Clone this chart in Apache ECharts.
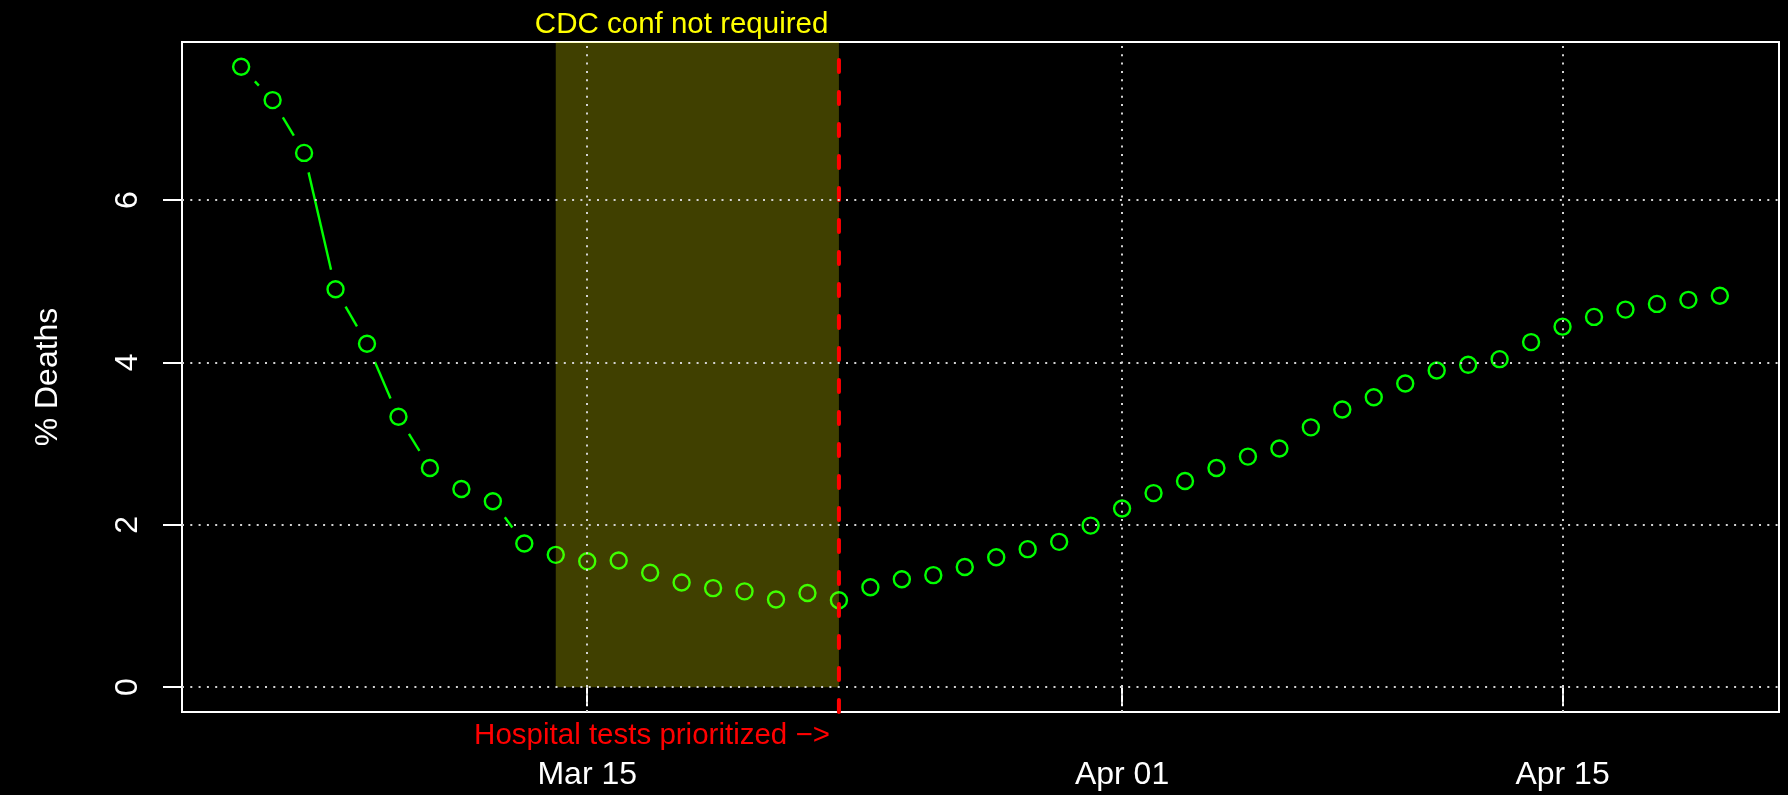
<!DOCTYPE html>
<html>
<head>
<meta charset="utf-8">
<title>% Deaths</title>
<script src="https://cdn.jsdelivr.net/npm/echarts@6/dist/echarts.min.js"></script>
<style>
	html, body { margin: 0; padding: 0; background: #000; }
	#chart { width: 1788px; height: 795px; }
</style>
</head>
<body>
<div id="chart"></div>
<script>
// daily values
var dates = [
	'2020-03-04', '2020-03-05', '2020-03-06', '2020-03-07', '2020-03-08', '2020-03-09',
	'2020-03-10', '2020-03-11', '2020-03-12', '2020-03-13', '2020-03-14', '2020-03-15',
	'2020-03-16', '2020-03-17', '2020-03-18', '2020-03-19', '2020-03-20', '2020-03-21',
	'2020-03-22', '2020-03-23', '2020-03-24', '2020-03-25', '2020-03-26', '2020-03-27',
	'2020-03-28', '2020-03-29', '2020-03-30', '2020-03-31', '2020-04-01', '2020-04-02',
	'2020-04-03', '2020-04-04', '2020-04-05', '2020-04-06', '2020-04-07', '2020-04-08',
	'2020-04-09', '2020-04-10', '2020-04-11', '2020-04-12', '2020-04-13', '2020-04-14',
	'2020-04-15', '2020-04-16', '2020-04-17', '2020-04-18', '2020-04-19', '2020-04-20'
];
var pctDeaths = [
	7.64, 7.23, 6.58, 4.90, 4.23, 3.33,
	2.70, 2.44, 2.29, 1.77, 1.63, 1.55,
	1.56, 1.41, 1.29, 1.22, 1.18, 1.08,
	1.16, 1.07, 1.23, 1.33, 1.38, 1.48,
	1.60, 1.70, 1.79, 1.99, 2.20, 2.39,
	2.54, 2.70, 2.84, 2.94, 3.20, 3.42,
	3.57, 3.74, 3.90, 3.97, 4.04, 4.25,
	4.44, 4.56, 4.65, 4.72, 4.77, 4.82
];
var xTickDates = ['2020-03-15', '2020-04-01', '2020-04-15'];
var xTickLabels = ['Mar 15', 'Apr 01', 'Apr 15'];
var yTicks = [0, 2, 4, 6];
var shadeFrom = '2020-03-14';
var shadeTo = '2020-03-23';
var cdcLabelDate = '2020-03-18';

// dates -> day numbers (Mar 01 = 0)
var DAY = 86400000;
function toDay(s) {
	var p = s.split('-');
	return Math.round((Date.UTC(+p[0], +p[1] - 1, +p[2]) - Date.UTC(2020, 2, 1)) / DAY);
}

var days = dates.map(toDay);
var points = days.map(function(d, i) { return [d, pctDeaths[i]]; });
var segments = [];
for (var i = 0; i < points.length - 1; i++) {
	segments.push([points[i][0], points[i][1], points[i + 1][0], points[i + 1][1]]);
}

// R style 4% padding
var dMin = days[0], dMax = days[days.length - 1];
var dPad = (dMax - dMin) * 0.04;
var vMax = Math.max.apply(null, pctDeaths);
var vPad = vMax * 0.04;
var yMin = 0 - vPad, yMax = vMax + vPad;

var xTickDays = xTickDates.map(toDay);
var FONT = '"Liberation Sans", Arial, sans-serif';
var gridColor = '#d3d3d3';
var GAP = 20; // px left open round each point (type = "b")

var chart = echarts.init(document.getElementById('chart'));
var option = {
	backgroundColor: '#000',
	animation: false,
	grid: {
		left: 182,
		right: 9,
		top: 42,
		bottom: 83,
		show: true,
		borderColor: '#fff',
		borderWidth: 2,
		backgroundColor: 'transparent',
		outerBoundsMode: 'none'
	},
	xAxis: {
		type: 'value',
		min: dMin - dPad,
		max: dMax + dPad,
		axisLine: { show: false },
		splitLine: { show: false },
		axisTick: {
			show: true,
			length: 19,
			customValues: xTickDays,
			lineStyle: { color: '#fff', width: 2 }
		},
		axisLabel: {
			customValues: xTickDays,
			margin: 47,
			color: '#fff',
			fontSize: 32,
			fontFamily: FONT,
			formatter: function(val) {
				var k = xTickDays.indexOf(val);
				return k >= 0 ? xTickLabels[k] : '';
			}
		}
	},
	yAxis: {
		type: 'value',
		min: yMin,
		max: yMax,
		name: '% Deaths',
		nameLocation: 'middle',
		nameGap: 118,
		nameTextStyle: { color: '#fff', fontSize: 32, fontFamily: FONT },
		axisLine: { show: false },
		splitLine: { show: false },
		axisTick: {
			show: true,
			length: 19,
			customValues: yTicks,
			lineStyle: { color: '#fff', width: 2 }
		},
		axisLabel: {
			customValues: yTicks,
			rotate: 90,
			margin: 38,
			color: '#fff',
			fontSize: 32,
			fontFamily: FONT
		}
	},
	series: [
		{
			// dotted grid
			name: 'grid',
			type: 'line',
			data: [],
			z: 1,
			silent: true,
			markLine: {
				silent: true,
				symbol: 'none',
				label: { show: false },
				lineStyle: { color: gridColor, width: 2, type: [2, 6.3] },
				data: yTicks.map(function(v) { return { yAxis: v }; })
					.concat(xTickDays.map(function(d) { return { xAxis: d }; }))
			}
		},
		{
			// line pieces between the circles
			name: 'segments',
			type: 'custom',
			z: 2,
			silent: true,
			encode: { x: [0, 2], y: [1, 3] },
			data: segments,
			renderItem: function(params, api) {
				var p0 = api.coord([api.value(0), api.value(1)]);
				var p1 = api.coord([api.value(2), api.value(3)]);
				var dx = p1[0] - p0[0], dy = p1[1] - p0[1];
				var len = Math.sqrt(dx * dx + dy * dy);
				if (len <= 2 * GAP) return null;
				var ux = dx / len, uy = dy / len;
				return {
					type: 'line',
					shape: {
						x1: p0[0] + ux * GAP, y1: p0[1] + uy * GAP,
						x2: p1[0] - ux * GAP, y2: p1[1] - uy * GAP
					},
					style: { stroke: '#00ff00', lineWidth: 2.4 }
				};
			}
		},
		{
			name: '% Deaths',
			type: 'scatter',
			z: 2,
			symbol: 'circle',
			symbolSize: 16,
			itemStyle: {
				color: 'rgba(0,0,0,0)',
				borderColor: '#00ff00',
				borderWidth: 2.4,
				opacity: 1
			},
			data: points
		},
		{
			// shaded period, drawn over the points
			name: 'shade',
			type: 'custom',
			z: 3,
			silent: true,
			data: [[toDay(shadeFrom), toDay(shadeTo)]],
			renderItem: function(params, api) {
				var a = api.coord([api.value(0), 0]);
				var b = api.coord([api.value(1), yMax]);
				return {
					type: 'rect',
					shape: { x: a[0], y: b[1], width: b[0] - a[0], height: a[1] - b[1] },
					style: { fill: 'rgba(255,255,0,0.25)' }
				};
			}
		},
		{
			// red dashed marker
			name: 'marker',
			type: 'custom',
			z: 4,
			silent: true,
			data: [[toDay(shadeTo)]],
			renderItem: function(params, api) {
				var a = api.coord([api.value(0), yMin]);
				var b = api.coord([api.value(0), yMax]);
				return {
					type: 'line',
					shape: { x1: a[0], y1: a[1], x2: b[0], y2: b[1] },
					style: {
						stroke: '#ff0000',
						lineWidth: 4,
						lineDash: [12, 20],
						lineCap: 'round'
					}
				};
			}
		}
	]
};
chart.setOption(option);

// annotations placed from the axis scales
var cdcPos = chart.convertToPixel({ gridIndex: 0 }, [toDay(cdcLabelDate), yMax]);
var hospPos = chart.convertToPixel({ gridIndex: 0 }, [toDay(shadeTo), yMin]);
chart.setOption({
	graphic: [
		{
			type: 'text',
			x: cdcPos[0],
			y: cdcPos[1] - 17,
			style: {
				text: 'CDC conf not required',
				fill: '#ffff00',
				font: '29.5px ' + FONT,
				align: 'center',
				verticalAlign: 'middle'
			}
		},
		{
			type: 'text',
			x: hospPos[0] - 9,
			y: hospPos[1] + 24,
			style: {
				text: 'Hospital tests prioritized \u2212>',
				fill: '#ff0000',
				font: '29.5px ' + FONT,
				align: 'right',
				verticalAlign: 'middle'
			}
		}
	]
});
</script>
</body>
</html>
